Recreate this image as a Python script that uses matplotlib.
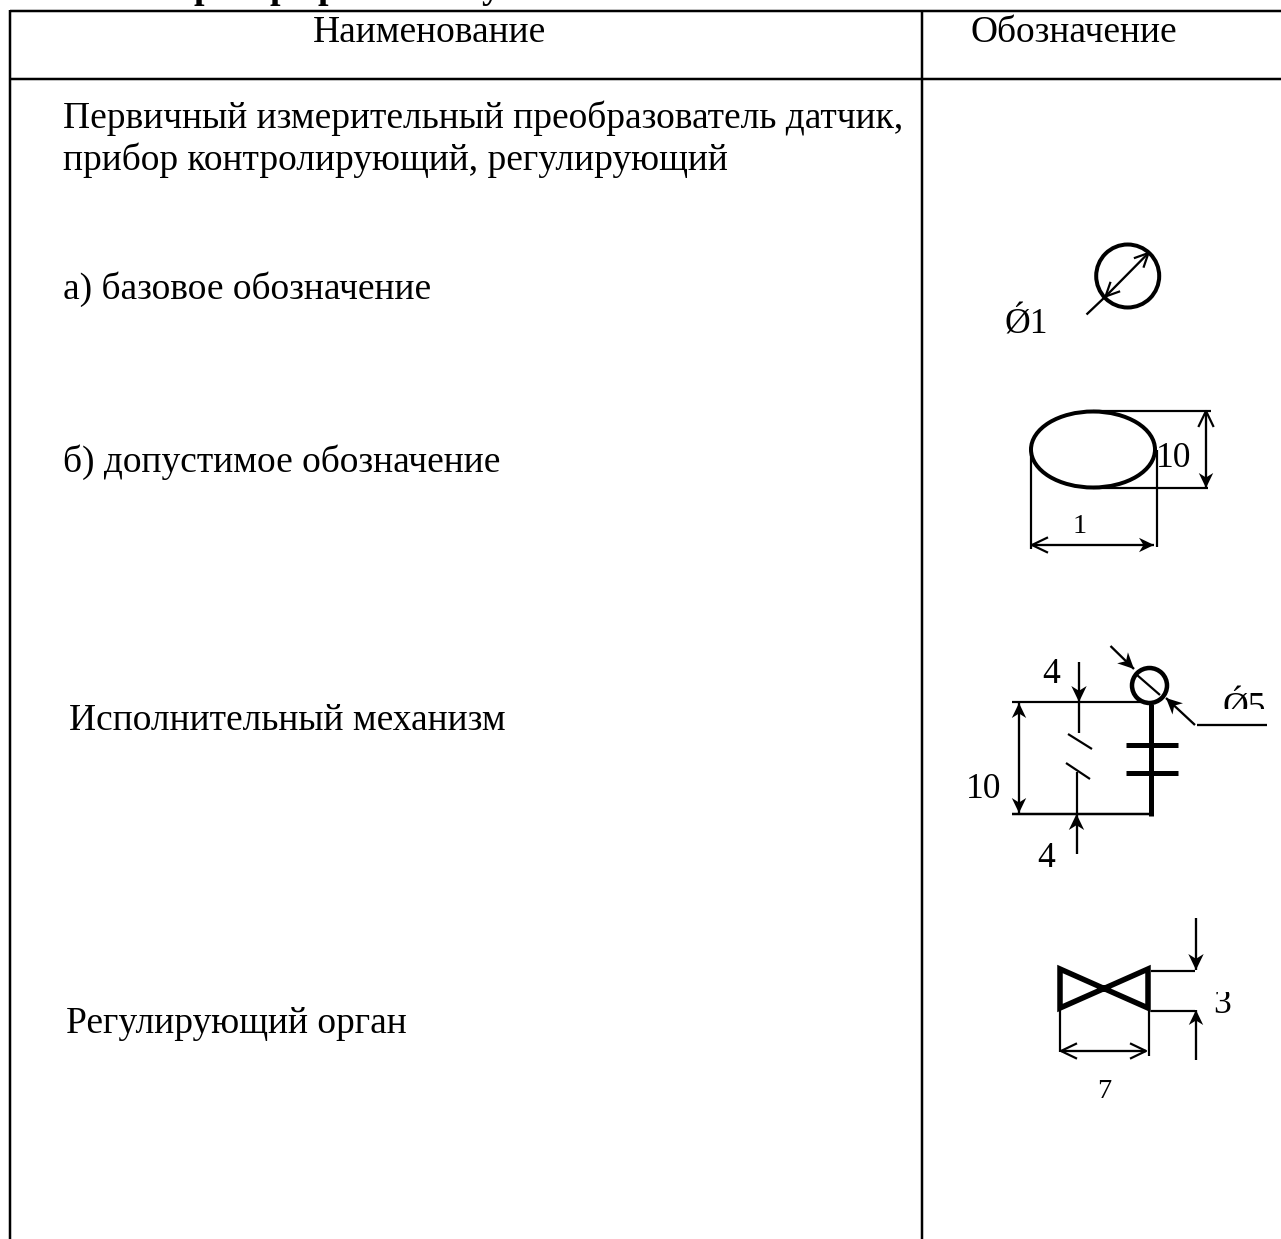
import numpy as np
import matplotlib
matplotlib.use("Agg")
import matplotlib.pyplot as plt
from matplotlib.patches import Circle, Ellipse, Polygon, Rectangle

plt.rcParams['font.family'] = ['Liberation Serif', 'DejaVu Serif']

W = 1281
H = 1239

# table text: string, x left, baseline y
headers = ["Наименование", "Обозначение"]
header_x = [313, 970]
header_y = 42
names = ["Первичный измерительный преобразователь датчик,",
         "прибор контролирующий, регулирующий",
         "а) базовое обозначение",
         "б) допустимое обозначение",
         "Исполнительный механизм",
         "Регулирующий орган"]
names_x = [63, 63, 63, 63, 69, 66]
names_y = [128, 170, 299, 472, 730, 1033]

# only the tails of the bold title line are left on the page
title_letters = ["р", "р", "р", "у"]
title_x = [204, 280, 328, 491]

TEXT_SIZE = 27
BIG = 25.6
SMALL = 20.5
px = 0.72  # one pixel in points at dpi 100

fig = plt.figure(figsize=(W / 100, H / 100), dpi=100)
ax = fig.add_axes([0, 0, 1, 1])
ax.set_xlim(0, W)
ax.set_ylim(H, 0)
ax.axis('off')


def line(xs, ys, w=2.3):
    ax.plot(xs, ys, color='black', lw=w * px, solid_capstyle='butt')


def head(x1, y1, x0, y0, filled=True, size=16):
    # tip at x1,y1 and pointing away from x0,y0
    d = np.array([x1 - x0, y1 - y0], dtype=float)
    d = d / np.hypot(d[0], d[1])
    n = np.array([-d[1], d[0]])
    tip = np.array([x1, y1])
    a = tip - d * size + n * size * 0.48
    b = tip - d * size - n * size * 0.48
    if filled:
        c = tip - d * size * 0.7
        ax.add_patch(Polygon([tip, a, c, b], closed=True, fc='black', ec='none'))
    else:
        ax.plot([a[0], tip[0], b[0]], [a[1], tip[1], b[1]], color='black', lw=2.2 * px)


def arrow(x0, y0, x1, y1, filled=True, w=2.3, size=16):
    line([x0, x1], [y0, y1], w)
    head(x1, y1, x0, y0, filled, size)


def dim(x0, y0, x1, y1, fill0=False, fill1=False, w=2.3, size=15):
    line([x0, x1], [y0, y1], w)
    head(x0, y0, x1, y1, fill0, size)
    head(x1, y1, x0, y0, fill1, size)


def label(x, y, s, size=BIG, ha='center', clip=None, **kw):
    t = ax.text(x, y, s, fontsize=size, ha=ha, va='baseline', color='black', **kw)
    if clip is not None:
        t.set_clip_on(True)
        t.set_clip_path(Rectangle((clip[0], clip[1]), clip[2], clip[3], transform=ax.transData))
    return t


# table
line([9.5, W], [11, 11], 2.5)
line([9.5, W], [79, 79], 2.5)
line([9.5, 9.5], [10, H], 2.5)
line([922, 922], [11, H], 2.5)

for s, x in zip(headers, header_x):
    label(x, header_y, s, TEXT_SIZE, ha='left')
for s, x, y in zip(names, names_x, names_y):
    label(x, y, s, TEXT_SIZE, ha='left')
for s, x in zip(title_letters, title_x):
    label(x, -2, s, TEXT_SIZE, fontweight='bold')

# a) circle
ax.add_patch(Circle((1127.7, 276), 31.5, fc='none', ec='black', lw=4 * px))
dim(1105.5, 296.5, 1148.5, 253, size=13)
line([1086.5, 1105.5], [314.5, 296.5], 2.3)
label(1004, 333, "Ǿ1", ha='left')

# b) ellipse
ax.add_patch(Ellipse((1093, 449.5), 124, 76, fc='none', ec='black', lw=4 * px))
line([1093, 1211], [411, 411], 2.2)
line([1093, 1208], [488, 488], 2.2)
dim(1206, 411, 1206, 488, fill1=True)
line([1031, 1031], [449, 549], 2.2)
line([1157, 1157], [450, 547], 2.2)
dim(1032, 545, 1154, 545, fill1=True)
label(1174, 467, "10")
label(1080, 533, "1", SMALL)

# actuator
ax.add_patch(Circle((1149.5, 685.5), 17.5, fc='none', ec='black', lw=4.5 * px))
line([1137, 1160], [675, 695], 2.2)
line([1150.5, 1150.5], [704, 816], 5)
line([1126, 1177.5], [745, 745], 5)
line([1126, 1177.5], [772.5, 772.5], 5)
line([1012, 1148], [702, 702], 2.2)
line([1012, 1150], [814, 814], 2.5)
dim(1019, 703, 1019, 813, fill0=True, fill1=True)
arrow(1079, 662, 1079, 702)
line([1079, 1079], [702, 733], 2.3)
line([1068, 1092], [734, 749], 2.2)
line([1066, 1090], [763, 779], 2.2)
line([1076.5, 1076.5], [772, 814], 2.2)
arrow(1076.5, 854, 1076.5, 814)
arrow(1110.5, 646, 1134, 669)
arrow(1195, 725, 1166, 698)
line([1197, 1267], [725, 725], 2.3)
label(1051, 683, "4")
label(984, 798, "10")
label(1046, 867, "4")
label(1222, 717, "Ǿ5", ha='left', clip=(1200, 640, 81, 69))

# valve
ax.add_patch(Polygon([(1060, 969), (1148, 1008), (1148, 969), (1060, 1008)], closed=True,
                     fc='none', ec='black', lw=5.5 * px, joinstyle='miter'))
line([1151, 1195], [970.5, 970.5], 2.2)
line([1151, 1195], [1010.5, 1010.5], 2.2)
arrow(1196, 918, 1196, 970)
arrow(1196, 1060, 1196, 1010, size=15)
line([1060, 1060], [1010, 1052], 2.2)
line([1148.5, 1148.5], [1010, 1056], 2.2)
dim(1061, 1051, 1146, 1051)
label(1104.5, 1098, "7", SMALL)
label(1222, 1013, "3", clip=(1205, 992, 40, 30))

fig.savefig("out.png", dpi=100, facecolor='white')
